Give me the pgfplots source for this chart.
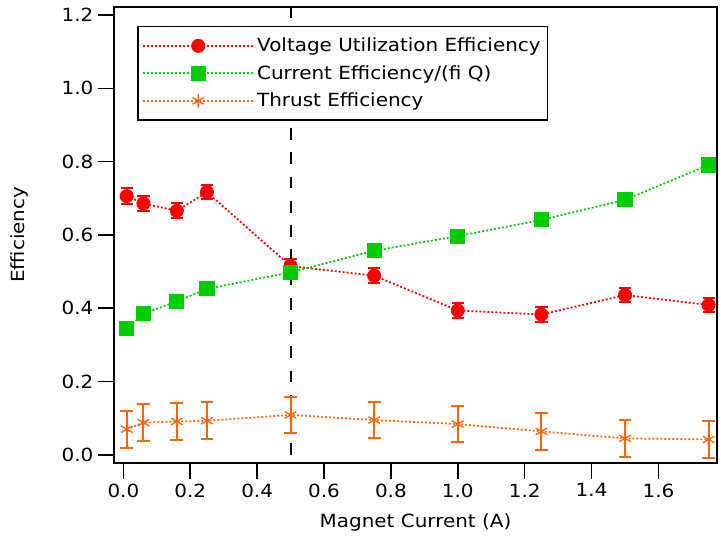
\documentclass[border=0pt]{standalone}
\usepackage{pgfplots}
\pgfplotsset{compat=1.18}
\usepackage{fontspec}
\setmainfont[FakeStretch=1.10]{DejaVu Sans}
\definecolor{vred}{RGB}{255,0,0}
\definecolor{cgreen}{RGB}{0,204,0}
\definecolor{torange}{RGB}{255,102,10}
\begin{document}
\begin{tikzpicture}
\begin{axis}[
  name=ax,
  scale only axis,
  width=452.25pt, height=342.2pt,
  xmin=-0.028, xmax=1.775,
  ymin=-0.022, ymax=1.223,
  xtick={0,0.2,0.4,0.6,0.8,1.0,1.2,1.4,1.6},
  ytick={0,0.2,0.4,0.6,0.8,1.0,1.2},
  /pgf/number format/assume math mode=true,
  xticklabel style={/pgf/number format/.cd, fixed, fixed zerofill, precision=1},
  yticklabel style={/pgf/number format/.cd, fixed, fixed zerofill, precision=1},
  font=\fontsize{13.6pt}{16pt}\selectfont,
  tick align=outside, tick pos=left,
  major tick length=12pt,
  every tick/.style={black, line width=1.2pt},
  axis line style={line width=1.3pt},
  xlabel={Magnet Current (A)},
  ylabel={Efficiency},
  xlabel style={at={(axis description cs:0.5,-0.1315)}, anchor=center},
  ylabel style={at={(axis description cs:-0.156,0.5)}, anchor=center},
  legend cell align=left,
  legend style={at={(rel axis cs:0.0386,0.958)}, anchor=north west,
    draw=black, line width=1.2pt, font=\fontsize{13.6pt}{16pt}\selectfont,
    inner xsep=3pt, inner ysep=6.5pt, row sep=4.8pt,
    nodes={inner xsep=2pt}},
  legend image code/.code={\draw[mark repeat=2, mark phase=2, #1] plot coordinates {(0pt,0pt) (41.5pt,0pt) (83pt,0pt)};},
]
\addplot[color=vred, line width=1.3pt, dash pattern=on 1.5pt off 1.5pt,
  mark=*, mark size=4.6pt, mark options={solid},
  error bars/.cd, y dir=both, y explicit,
  error bar style={solid, line width=1.5pt},
  error mark options={solid, rotate=90, line width=1.5pt, mark size=4.6pt}]
table[x=x, y=y, y error=e] {
x y e
0.01 0.706 0.021
0.06 0.686 0.020
0.16 0.666 0.020
0.25 0.717 0.020
0.50 0.515 0.020
0.75 0.489 0.020
1.00 0.394 0.020
1.25 0.383 0.020
1.50 0.436 0.020
1.75 0.409 0.020
};
\addlegendentry{Voltage Utilization Efficiency}
\addplot[forget plot, black, line width=1.5pt, dash pattern=on 8.8pt off 9.4pt] coordinates {(0.5,1.223) (0.5,-0.022)};
\addplot[color=cgreen, line width=1.3pt, dash pattern=on 1.5pt off 1.5pt,
  mark=square*, mark size=5pt, mark options={solid}]
table[x=x, y=y] {
x y
0.01 0.344
0.06 0.385
0.16 0.419
0.25 0.453
0.50 0.498
0.75 0.557
1.00 0.597
1.25 0.641
1.50 0.696
1.75 0.791
};
\addlegendentry{Current Efficiency/(fi Q)}
\addplot[color=torange, line width=1.3pt, dash pattern=on 1.5pt off 1.5pt,
  mark=asterisk, mark size=5pt, mark options={solid, line width=1pt},
  error bars/.cd, y dir=both, y explicit,
  error bar style={solid, line width=1.5pt},
  error mark options={solid, rotate=90, line width=1.5pt, mark size=4.8pt}]
table[x=x, y=y, y error=e] {
x y e
0.01 0.070 0.05
0.06 0.088 0.05
0.16 0.091 0.05
0.25 0.093 0.05
0.50 0.109 0.05
0.75 0.095 0.05
1.00 0.084 0.05
1.25 0.064 0.05
1.50 0.045 0.05
1.75 0.042 0.05
};
\addlegendentry{Thrust Efficiency}
\end{axis}
\path ([xshift=-85.5pt, yshift=-57pt]ax.south west) rectangle ([xshift=3pt, yshift=5pt]ax.north east);
\end{tikzpicture}
\end{document}
